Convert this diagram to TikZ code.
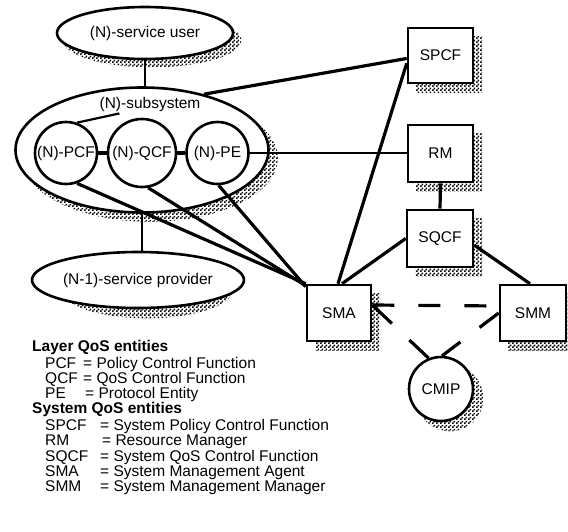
\documentclass[tikz,border=0pt]{standalone}
\usepackage{fontspec}
\setmainfont{Liberation Sans}
\usetikzlibrary{shapes.geometric,patterns}

% checkerboard stipple used for the drop shadows
\pgfdeclarepatternformonly{stipple}{\pgfpointorigin}{\pgfpoint{4pt}{4pt}}{\pgfpoint{4pt}{4pt}}{%
  \pgfpathrectangle{\pgfpointorigin}{\pgfpoint{2pt}{2pt}}%
  \pgfpathrectangle{\pgfpoint{2pt}{2pt}}{\pgfpoint{2pt}{2pt}}%
  \pgfusepath{fill}}

\begin{document}
\begin{tikzpicture}[x=1pt,y=-1pt,
  every node/.style={font=\fontsize{15.5}{18}\selectfont, inner sep=0pt},
  outline/.style={line width=2.6pt},
  shadowfill/.style={pattern=stipple, pattern color=black},
  oval/.style={ellipse, draw, outline, fill=white},
  disc/.style={circle, draw, outline, fill=white, minimum size=62pt},
  unit/.style={rectangle, draw, outline, fill=white, minimum width=65pt, minimum height=56pt},
  link/.style={line width=3.2pt},
  thinlink/.style={line width=2.2pt},
  msg/.style={line width=3.2pt, dash pattern=on 22pt off 24pt},
  legend/.style={anchor=base west},
  heading/.style={anchor=base west, font=\fontsize{15.5}{18}\selectfont\bfseries}
]
\useasboundingbox (0,0) rectangle (568,531);

% drop shadows, laid down first so the shapes cover them
\fill[shadowfill] (152,40) ellipse [x radius=89.3, y radius=27.3];
\fill[shadowfill] (150,158) ellipse [x radius=127.8, y radius=63.8];
\fill[shadowfill] (147,289) ellipse [x radius=86.3, y radius=29.3];
\fill[shadowfill] (450,398) circle [radius=33.3];
\fill[shadowfill] (416,36) rectangle (482,92);   % SPCF
\fill[shadowfill] (416,133) rectangle (482,191); % RM
\fill[shadowfill] (415,218) rectangle (482,276); % SQCF
\fill[shadowfill] (315,293) rectangle (380,350); % SMA
\fill[shadowfill] (508,293) rectangle (575,350); % SMM

% layer entities
\node[oval, minimum width=176pt, minimum height=52pt] (user) at (145,33) {(N)-service user};
\node[oval, minimum width=253pt, minimum height=125pt] (subsys) at (142,150) {};
\node (subsyslabel) at (150,104) {(N)-subsystem};
\node[disc] (PCF) at (66,153) {(N)-PCF};
\node[disc, minimum size=68pt] (QCF) at (142,153) {(N)-QCF};
\node[disc] (PE) at (217.5,153) {(N)-PE};
\node[oval, minimum width=170pt, minimum height=56pt] (provider) at (138,280) {(N-1)-service provider};

% system entities
\node[unit, minimum height=55pt] (SPCF) at (440.5,55.5) {SPCF};
\node[unit, minimum height=57pt] (RM) at (440.5,153.5) {RM};
\node[unit, minimum height=57pt, minimum width=66pt] (SQCF) at (440,238.5) {SQCF};
\node[unit, minimum width=64pt] (SMA) at (339,313) {SMA};
\node[unit, minimum width=66pt] (SMM) at (533,313) {SMM};
\node[disc, minimum size=64pt] (CMIP) at (441,389) {CMIP};

% connectors
\draw[thinlink] (user.south) -- (user.south |- subsys.north);
\draw[thinlink] (subsys.south) -- (subsys.south |- provider.north);
\draw[thinlink] (PCF.70) -- ([xshift=20pt,yshift=-2pt]subsyslabel.south west);
\draw[link] (PCF) -- (QCF);
\draw[link] (QCF) -- (PE);
\draw[link] (subsys.42) -- (SPCF.185);
\draw[link] (SPCF.193) -- ([xshift=-1pt]SMA.north);
\draw[thinlink] (PE.east) -- (PE.east -| RM.west);
\draw[link] (RM.south) -- (SQCF.north);
\draw[link] (SQCF.west) -- ([xshift=3pt]SMA.north);
\draw[link] (SQCF.-11) -- ([xshift=-3pt]SMM.north);
\draw[link] (PCF.-70) -- (SMA.north west);
\draw[link] (QCF.-80) -- ([yshift=-2pt]SMA.north west);
\draw[link] (PE.-88) -- ([yshift=-3pt]SMA.north west);

% management exchanges
\coordinate (smaport) at ([yshift=8pt]SMA.east);
\draw[msg] (smaport) -- ([yshift=7pt]SMM.west);
\draw[msg, dash pattern=on 27pt off 24pt] (smaport) -- (CMIP.112);
\draw[msg, dash pattern=on 24pt off 24pt] (SMM.west) -- (CMIP.88);

% legend
\node[heading] (hlayer) at (32,351.5) {Layer QoS entities};
\node[legend] (kpcf) at (45,368) {PCF};
\node[legend] (dpcf) at (83,368) {= Policy Control Function};
\node[legend] (kqcf) at (45,383) {QCF};
\node[legend] (dqcf) at (83,383) {= QoS Control Function};
\node[legend] (kpe) at (45,398) {PE};
\node[legend] (dpe) at (85,398) {= Protocol Entity};
\node[heading] (hsystem) at (32,413) {System QoS entities};
\node[legend] (kspcf) at (45,430) {SPCF};
\node[legend] (dspcf) at (100,430) {= System Policy Control Function};
\node[legend] (krm) at (45,445) {RM};
\node[legend] (drm) at (102,445) {= Resource Manager};
\node[legend] (ksqcf) at (45,461.5) {SQCF};
\node[legend] (dsqcf) at (100,461.5) {= System QoS Control Function};
\node[legend] (ksma) at (45,476.5) {SMA};
\node[legend] (dsma) at (100,476.5) {= System Management Agent};
\node[legend] (ksmm) at (45,491.5) {SMM};
\node[legend] (dsmm) at (100,491.5) {= System Management Manager};
\end{tikzpicture}
\end{document}
